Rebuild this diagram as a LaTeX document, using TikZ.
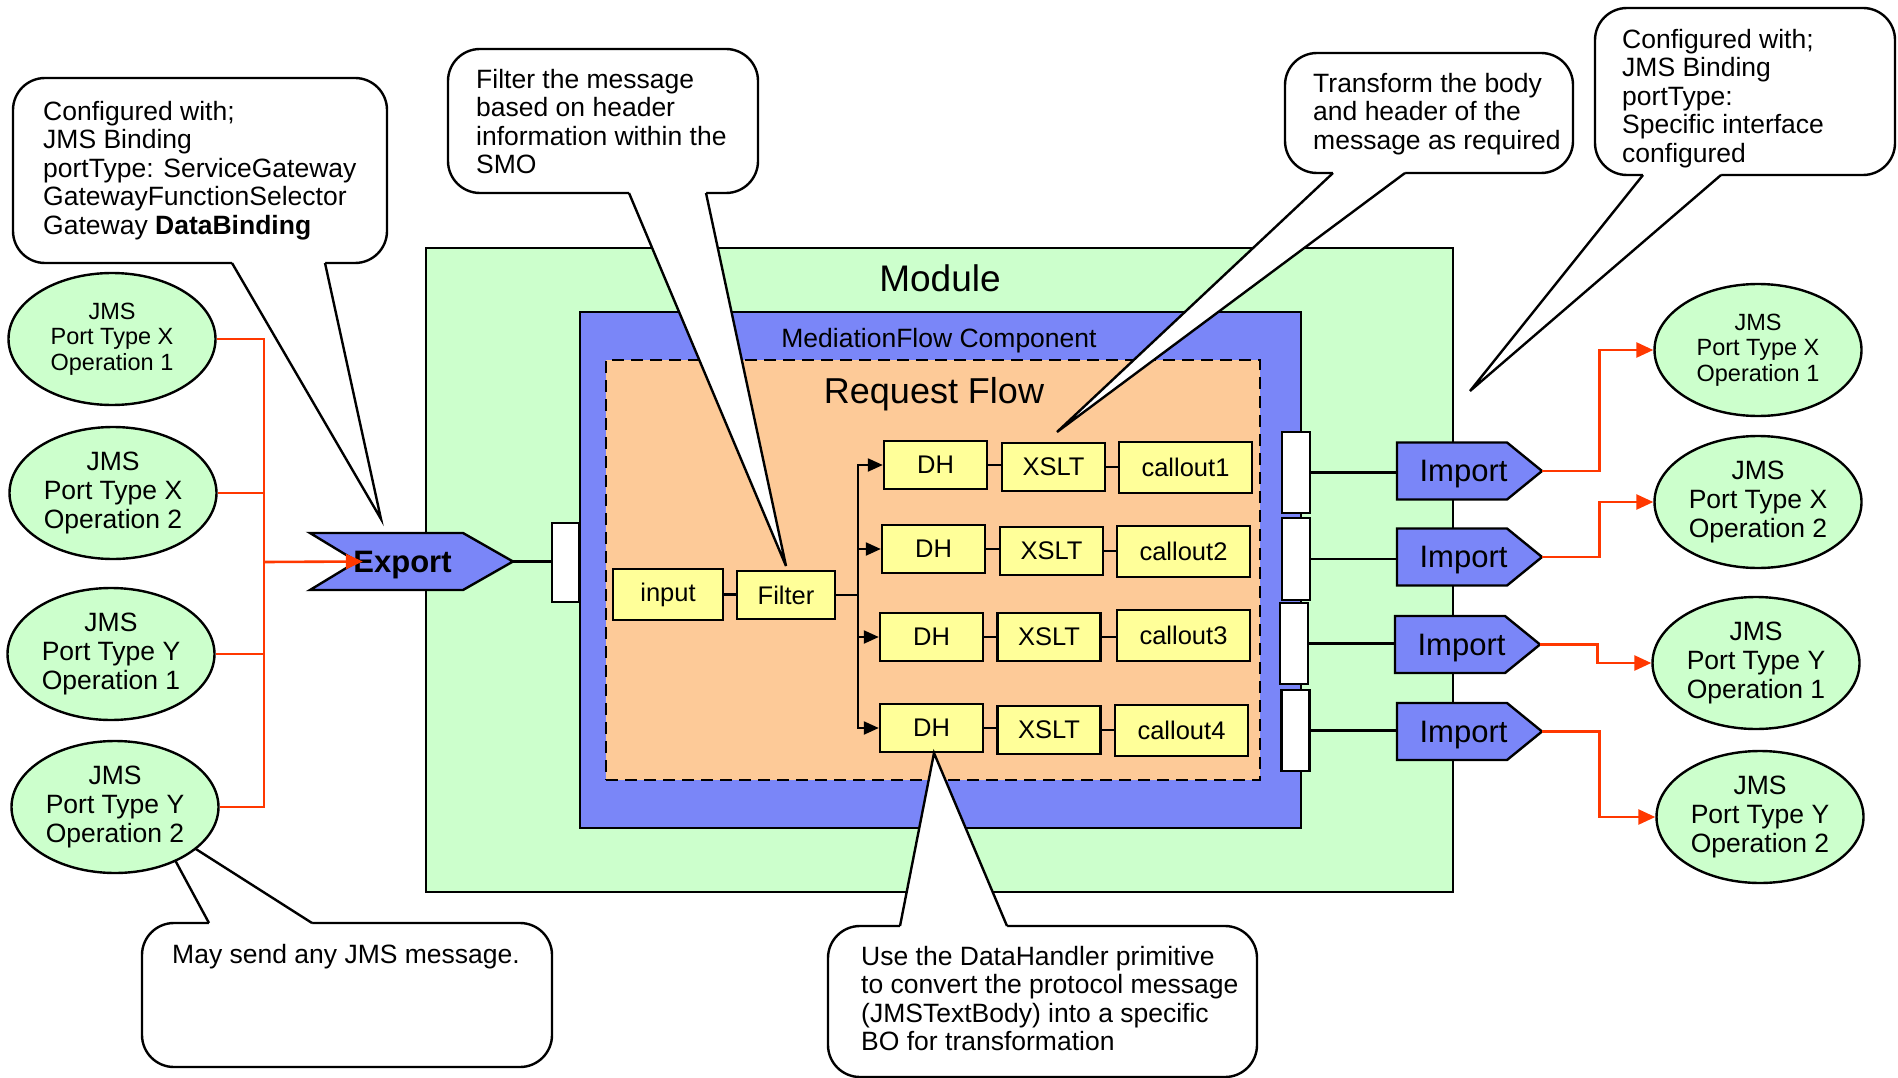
\documentclass[tikz,border=0pt]{standalone}
\usepackage{fontspec}
\setmainfont{Liberation Sans}
\usetikzlibrary{arrows.meta,calc,shapes.geometric}

\definecolor{modgreen}{RGB}{204,255,204}
\definecolor{mfcblue}{RGB}{122,134,248}
\definecolor{flowpeach}{RGB}{253,202,152}
\definecolor{primyellow}{RGB}{255,255,153}
\definecolor{wirered}{RGB}{255,56,0}

\newcommand\fsz[2]{\fontsize{#1}{#2}\selectfont}

% speech-bubble tail: base x1, base x2, edge y, inner y, tip coordinate
\newcommand\bubbletail[5]{%
  \fill[white] (#1,#3) -- (#5) -- (#2,#3) -- (#2,#4) -- (#1,#4) -- cycle;
  \draw[blackline] (#1,#3) -- (#5) -- (#2,#3);
}

% import gateway: name, centre x, centre y
\newcommand\importgate[3]{%
  \filldraw[blackline,fill=mfcblue] (#2-72.5,#3-28.5) -- (#2+37.5,#3-28.5)
    -- (#2+72.5,#3) -- (#2+37.5,#3+28.5) -- (#2-72.5,#3+28.5) -- cycle;
  \node[gateway,minimum width=145pt,font=\fsz{31}{34}] (#1) at (#2,#3) {\hspace*{-12pt}Import};
}

\begin{document}
\begin{tikzpicture}[x=1pt,y=-1pt,
  blackline/.style={draw=black,line width=2.4pt},
  container/.style={blackline,inner sep=0pt},
  prim/.style={blackline,fill=primyellow,inner sep=0pt,minimum width=103pt,minimum height=48pt,font=\fsz{25.5}{29}},
  portbox/.style={blackline,fill=white,inner sep=0pt,minimum width=28pt,minimum height=81pt},
  jms/.style={ellipse,blackline,fill=modgreen,inner sep=0pt,minimum width=207pt,minimum height=132pt,align=center,font=\fsz{26.5}{29}},
  jmsone/.style={jms,font=\fsz{23.5}{25.5}},
  bubble/.style={blackline,fill=white,rounded corners=32pt,inner sep=0pt},
  bubbletext/.style={anchor=north west,inner sep=0pt,align=left,font=\fsz{26.5}{28.5}},
  gateway/.style={inner sep=0pt,minimum height=57pt,text depth=0pt},
  link/.style={draw=black,line width=2.2pt},
  flowarrow/.style={link,-{Triangle[length=15pt,width=13pt]}},
  wire/.style={draw=wirered,line width=2.6pt},
  wirearrow/.style={wire,-{Triangle[length=17pt,width=15pt]}},
]
\useasboundingbox (0,0) rectangle (1898,1078);

% ---- nested containers ----
\node[container,fill=modgreen,minimum width=1027pt,minimum height=644pt] (module) at (939.5,570) {};
\node[container,fill=mfcblue,minimum width=721pt,minimum height=516pt] (mfc) at (940.5,570) {};
\node[container,fill=flowpeach,dash pattern=on 12pt off 7pt,minimum width=654pt,minimum height=420pt] (reqflow) at (933,570) {};
\node[anchor=base,inner sep=0pt,font=\fsz{37}{40}] (modlabel) at (940,291) {Module};
\node[anchor=base,inner sep=0pt,font=\fsz{26.5}{30}] (mfclabel) at (939,347) {MediationFlow Component};
\node[anchor=base,inner sep=0pt,font=\fsz{36}{40}] (rflabel) at (934,403) {Request Flow};

% ---- request flow primitives ----
\node[prim,minimum width=110pt,minimum height=51pt] (input) at (668,594.5) {input};
\node[prim,minimum width=98pt] (filter) at (786,595) {Filter};

\node[prim] (dh1) at (935.5,465) {DH};
\node[prim] (xs1) at (1053.5,467) {XSLT};
\node[prim,minimum width=133pt,minimum height=51pt] (cal1) at (1185.5,467.5) {callout1};
\node[prim] (dh2) at (933.5,549) {DH};
\node[prim] (xs2) at (1051.5,551) {XSLT};
\node[prim,minimum width=133pt,minimum height=51pt] (cal2) at (1183.5,551.5) {callout2};
\node[prim] (dh3) at (931.5,637) {DH};
\node[prim] (xs3) at (1049,637) {XSLT};
\node[prim,minimum width=133pt,minimum height=51pt] (cal3) at (1183.5,635.5) {callout3};
\node[prim] (dh4) at (931.5,728) {DH};
\node[prim] (xs4) at (1049,730) {XSLT};
\node[prim,minimum width=133pt,minimum height=51pt] (cal4) at (1181.5,730.5) {callout4};

\draw[link] (input.east) -- (input.east -| filter.west);
\coordinate (fork) at (858,595);
\draw[link] (filter.east) -- (fork);
\foreach \d in {dh1,dh2,dh3,dh4} \draw[flowarrow] (fork) |- (\d.west);
\foreach \i in {1,...,4} {
  \draw[link] (dh\i.east) -- (dh\i.east -| xs\i.west);
  \draw[link] (xs\i.east) -- (xs\i.east -| cal\i.west);
}

% ---- component ports, export and imports ----
\node[portbox,minimum width=27pt,minimum height=79pt] (pl) at (565.5,562.5) {};
\node[portbox] (pr1) at (1296,472.5) {};
\node[portbox,minimum height=82pt] (pr2) at (1296,559) {};
\node[portbox] (pr3) at (1294,643.5) {};
\node[portbox] (pr4) at (1295.5,730.5) {};

\coordinate (exc) at (411.5,561.5);
\filldraw[blackline,fill=mfcblue] ($(exc)+(-101.5,-28.5)$) -- ++(153,0) -- ++(50,28.5)
  -- ++(-50,28.5) -- ++(-153,0) -- ++(47,-28.5) -- cycle;
\node[gateway,minimum width=203pt,font=\bfseries\fsz{31}{34}] (export) at (exc) {\hspace*{-18pt}Export};

\importgate{imp1}{1469.5}{471}
\importgate{imp2}{1469.5}{557}
\importgate{imp3}{1467.5}{644.5}
\importgate{imp4}{1469.5}{731.5}

\draw[link] (export.east) -- (export.east -| pl.west);
\foreach \i in {1,...,4} \draw[link] (pr\i.east) -- (pr\i.east -| imp\i.west);

% ---- notes ----
\coordinate (tip1) at (381,519);
\node[bubble,minimum width=374pt,minimum height=185pt] (note1) at (200,170.5) {};
\bubbletail{232}{325}{263}{259}{tip1}
\node[bubbletext] (note1text) at (43,100.7) {Configured with;\\JMS Binding\\portType: ServiceGateway\\GatewayFunctionSelector\\Gateway \textbf{DataBinding}};

\coordinate (tip2) at (786,566);
\node[bubble,minimum width=310pt,minimum height=144pt] (note2) at (603,121) {};
\bubbletail{629}{706}{193}{189}{tip2}
\node[bubbletext] (note2text) at (476,68.7) {Filter the message\\based on header\\information within the\\SMO};

\coordinate (tip3) at (1057,432);
\node[bubble,minimum width=288pt,minimum height=120pt] (note3) at (1429,113) {};
\bubbletail{1333}{1405}{173}{169}{tip3}
\node[bubbletext] (note3text) at (1313,72.7) {Transform the body\\and header of the\\message as required};

\coordinate (tip4) at (1470,391);
\node[bubble,minimum width=300pt,minimum height=167pt] (note4) at (1745,91.5) {};
\bubbletail{1643}{1721}{175}{171}{tip4}
\node[bubbletext] (note4text) at (1622,28.7) {Configured with;\\JMS Binding\\portType:\\Specific interface\\configured};

\coordinate (tip6) at (934,753);
\node[bubble,minimum width=429pt,minimum height=151pt] (note6) at (1042.5,1001.5) {};
\bubbletail{900}{1007}{926}{930}{tip6}
\node[bubbletext] (note6text) at (861,945.7) {Use the DataHandler primitive\\to convert the protocol message\\(JMSTextBody) into a specific\\BO for transformation};

\coordinate (tip5) at (155,823);
\node[bubble,minimum width=410pt,minimum height=144pt] (note5) at (347,995) {};
\bubbletail{209}{312}{923}{927}{tip5}
\node[bubbletext] (note5text) at (172,943.7) {May send any JMS message.};

% ---- JMS endpoints ----
\node[jmsone] (e1) at (112,339) {JMS\\Port Type X\\Operation 1};
\node[jms] (e2) at (113,493) {JMS\\Port Type X\\Operation 2};
\node[jms] (e3) at (111,654) {JMS\\Port Type Y\\Operation 1};
\node[jms] (e4) at (115,807) {JMS\\Port Type Y\\Operation 2};

\node[jmsone] (r1) at (1758,350) {JMS\\Port Type X\\Operation 1};
\node[jms] (r2) at (1758,502) {JMS\\Port Type X\\Operation 2};
\node[jms] (r3) at (1756,663) {JMS\\Port Type Y\\Operation 1};
\node[jms] (r4) at (1760,817) {JMS\\Port Type Y\\Operation 2};

% ---- red wiring ----
\coordinate (lbus) at (264,562);
\draw[wire] (e1.east) -| (lbus);
\draw[wire] (e4.east) -| (lbus);
\draw[wire] (e2.east) -- (e2.east -| lbus);
\draw[wire] (e3.east) -- (e3.east -| lbus);
\draw[wirearrow] (lbus) -- ($(export.west)+(53,0)$);

\draw[wirearrow] (imp1.east) -- ++(57,0) |- (r1.west);
\draw[wirearrow] (imp2.east) -- ++(57,0) |- (r2.west);
\draw[wirearrow] (imp3.east) -- ++(57,0) |- (r3.west);
\draw[wirearrow] (imp4.east) -- ++(57,0) |- (r4.west);
\end{tikzpicture}
\end{document}
